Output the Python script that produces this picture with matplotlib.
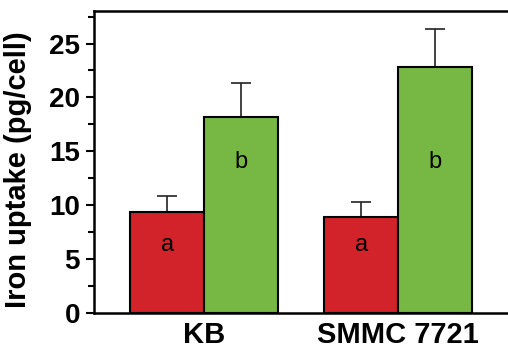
import numpy as np
import matplotlib
matplotlib.use('Agg')
import matplotlib.pyplot as plt
from matplotlib.ticker import MultipleLocator

plt.rcParams['font.family'] = ['Liberation Sans', 'DejaVu Sans']

# data
cells = ['KB', 'SMMC 7721']
red_vals = [9.4, 8.9]
red_err = [1.5, 1.4]
green_vals = [18.2, 22.8]
green_err = [3.1, 3.5]
red_letters = ['a', 'a']
green_letters = ['b', 'b']

fig = plt.figure(figsize=(5.08, 3.49), dpi=100)
ax = fig.add_axes([0.185, 0.103, 0.815, 0.865])

x = np.arange(len(cells))
w = 0.38
red_x = x - w / 2
green_x = x + w / 2

ax.bar(red_x, red_vals, w, color='#D2232A', edgecolor='black', linewidth=1.5, zorder=3)
ax.bar(green_x, green_vals, w, color='#76B843', edgecolor='black', linewidth=1.5, zorder=3)

# upper whiskers only
ax.errorbar(red_x, red_vals, yerr=[np.zeros(len(red_err)), red_err], fmt='none',
            ecolor='#222222', elinewidth=1.2, capsize=7.5, capthick=1.2, zorder=2)
ax.errorbar(green_x, green_vals, yerr=[np.zeros(len(green_err)), green_err], fmt='none',
            ecolor='#222222', elinewidth=1.2, capsize=7.5, capthick=1.2, zorder=2)

for i in range(len(cells)):
    ax.text(red_x[i], 6.3, red_letters[i], ha='center', va='center', fontsize=17, zorder=4)
    ax.text(green_x[i], 14.0, green_letters[i], ha='center', va='center', fontsize=17, zorder=4)

ax.set_xlim(-0.567, 1.567)
ax.set_ylim(0, 28)
ax.yaxis.set_major_locator(MultipleLocator(5))
ax.yaxis.set_minor_locator(MultipleLocator(2.5))
ax.set_xticks(x)
ax.set_xticklabels(cells, fontsize=21, fontweight='bold')
ax.tick_params(axis='x', length=0, pad=6)
ax.tick_params(axis='y', which='major', length=6, width=1.5, labelsize=20, pad=4)
ax.tick_params(axis='y', which='minor', length=4, width=1.5)
for lbl in ax.get_yticklabels():
    lbl.set_fontweight('bold')

ax.set_ylabel('Iron uptake (pg/cell)', fontsize=21, fontweight='bold')
ax.yaxis.set_label_coords(-0.15, 0.475)

ax.spines['right'].set_visible(False)
for s in ['left', 'top', 'bottom']:
    ax.spines[s].set_linewidth(1.8)

plt.savefig('out.png', dpi=100)
